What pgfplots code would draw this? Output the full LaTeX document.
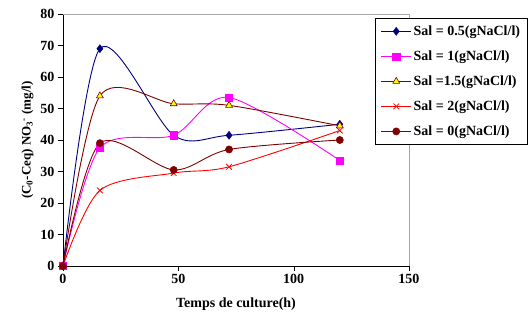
\documentclass[border=0pt]{standalone}
\usepackage{pgfplots}
\pgfplotsset{compat=1.18}
\usepackage{fontspec}
\setmainfont{Liberation Serif}
\definecolor{navy}{RGB}{0,0,128}
\definecolor{dred}{RGB}{128,0,0}
\definecolor{mag}{RGB}{255,0,255}
\definecolor{rred}{RGB}{255,0,0}
\definecolor{yel}{RGB}{255,255,0}
\pgfplotstableread{
t s05 s1 s15 s2 s0
0 0 0 0 0 0
16 69 37.5 54 24 39
48 41.5 41.5 51.5 29.5 30.5
72 41.5 53.5 51 31.5 37
120 45 33.5 44.5 43 40
}\data
\begin{document}
\begin{tikzpicture}[x=1pt,y=1pt]
\useasboundingbox (-63,-63) rectangle (468,266);
\begin{axis}[
  at={(0,0)}, anchor=south west,
  scale only axis, width=346pt, height=252pt,
  xmin=0, xmax=150, ymin=0, ymax=80,
  xtick={0,50,100,150}, ytick={0,10,...,80},
  axis lines*=left,
  tick align=outside, major tick length=5pt,
  tick style={black},
  every axis plot/.append style={line width=0.9pt},
  clip=false,
  /pgf/number format/assume math mode=true,
  ticklabel style={font=\fontsize{14}{16}\selectfont\bfseries},
  xlabel style={font=\fontsize{14}{16}\selectfont\bfseries, yshift=-7pt},
  ylabel style={font=\fontsize{13}{15}\selectfont\bfseries, yshift=0pt},
  xlabel={Temps de culture(h)},
  ylabel={(C\textsubscript{0}-Ceq) NO\textsubscript{3}\textsuperscript{-} (mg/l)},
  legend cell align=left,
  legend style={at={(axis description cs:0.902,0.984)}, anchor=north west,
    font=\fontsize{14}{16}\selectfont\bfseries, draw=black, fill=white,
    row sep=9.8pt, inner sep=5.5pt},
  legend image code/.code={
    \draw[mark repeat=2,mark phase=2] plot coordinates {(0pt,0pt) (15pt,0pt) (30pt,0pt)};
  },
]
\draw[gray!70, line width=0.8pt] (rel axis cs:0,1) -- (rel axis cs:1,1) -- (rel axis cs:1,0);
\addplot[navy, smooth, tension=0.5, mark=diamond*, mark size=4pt, mark options={fill=navy, line width=0.5pt}] table[x=t,y=s05]{\data};
\addlegendentry{Sal = 0.5(gNaCl/l)}
\addplot[mag, smooth, tension=0.5, mark=square*, mark size=3.6pt, mark options={fill=mag, draw=mag, line width=0.5pt}] table[x=t,y=s1]{\data};
\addlegendentry{Sal = 1(gNaCl/l)}
\addplot[dred, smooth, tension=0.5, mark=triangle*, mark size=4pt, mark options={fill=yel, draw=dred, line width=0.6pt}] table[x=t,y=s15]{\data};
\addlegendentry{Sal =1.5(gNaCl/l)}
\addplot[rred, smooth, tension=0.5, mark=x, mark size=4pt, mark options={line width=0.8pt}] table[x=t,y=s2]{\data};
\addlegendentry{Sal = 2(gNaCl/l)}
\addplot[dred, smooth, tension=0.5, mark=*, mark size=3.6pt, mark options={fill=dred, line width=0.5pt}] table[x=t,y=s0]{\data};
\addlegendentry{Sal = 0(gNaCl/l)}
\end{axis}
\end{tikzpicture}
\end{document}
